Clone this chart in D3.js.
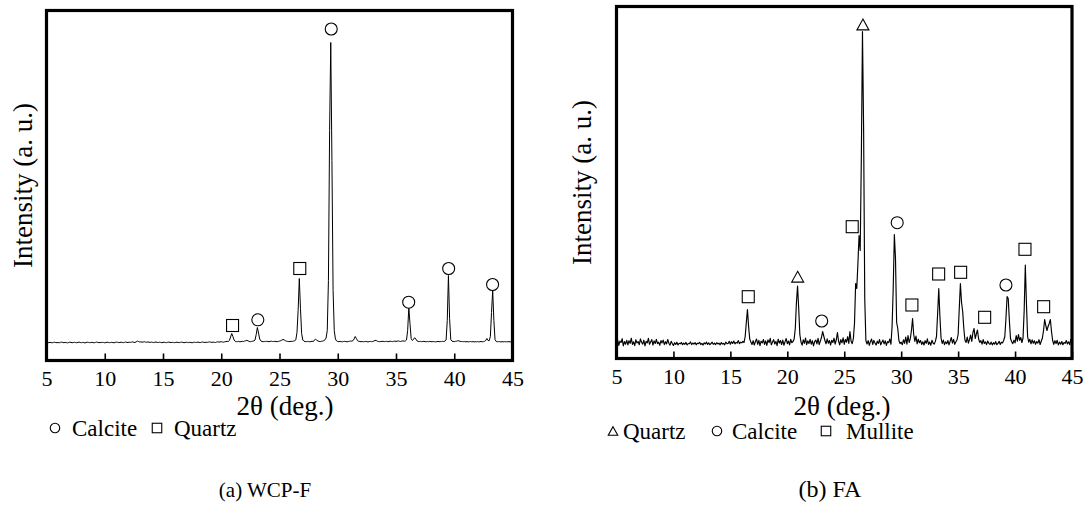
<!DOCTYPE html>
<html>
<head>
<meta charset="utf-8">
<script src="https://cdn.jsdelivr.net/npm/d3@7"></script>
<style>
body { margin: 0; background: #fff; }
svg text { font-family: "Liberation Serif", "Times New Roman", serif; fill: #000; }
</style>
</head>
<body>
<svg id="chart" width="1087" height="524"></svg>
<script>
// 2theta grid: 5 to 45 deg, one value every 0.1 deg
var thetaStart = 5, thetaStep = 0.1;
var xTickValues = [5, 10, 15, 20, 25, 30, 35, 40, 45];

// (a) WCP-F intensity (a. u.), one row per degree
var wcpCounts = [
    17.6,18.0,17.8,18.2,17.9,17.7,18.1,18.3,17.9,17.8,
    18.0,17.7,18.2,18.4,18.0,17.8,18.1,17.9,17.6,18.0,
    18.3,18.1,17.8,17.9,18.2,18.0,17.7,18.1,18.4,18.0,
    17.8,18.1,17.9,17.6,18.0,18.3,18.1,17.8,18.0,18.2,
    17.9,17.7,18.1,18.4,18.1,17.8,18.0,17.9,18.2,18.0,
    17.7,18.0,18.3,18.1,17.8,18.0,18.2,17.9,17.7,18.1,
    18.4,18.2,17.9,18.0,18.3,18.1,17.8,18.2,18.5,18.1,
    18.0,18.3,18.1,18.4,18.6,18.2,18.0,18.7,19.4,19.0,
    18.5,18.7,18.3,18.5,18.8,18.4,18.2,18.6,18.3,18.1,
    18.4,18.2,17.9,18.3,18.5,18.1,18.0,18.3,18.1,17.8,
    18.1,18.3,18.0,17.8,18.2,18.4,18.1,17.9,18.2,18.0,
    17.8,18.1,18.3,18.0,17.9,18.2,18.4,18.1,17.8,18.0,
    18.3,18.1,17.9,18.2,18.0,17.7,18.1,18.3,18.0,18.2,
    18.4,18.1,17.9,18.3,18.5,18.2,18.0,18.3,18.1,18.4,
    18.6,18.3,18.1,18.4,18.2,18.0,18.5,18.7,18.4,18.6,
    18.8,18.5,18.3,18.7,18.9,19.2,19.0,20.0,23.5,27.0,
    24.0,20.5,19.2,18.8,18.9,19.1,18.7,18.9,19.2,19.0,
    19.4,19.8,20.2,19.6,19.0,18.8,19.1,19.3,19.6,20.5,
    26.0,33.0,27.5,21.5,19.6,19.0,18.8,19.1,18.9,19.2,
    19.0,18.8,19.1,19.3,19.0,18.9,19.2,19.0,18.8,19.1,
    19.4,19.8,20.4,21.0,20.6,19.8,19.3,19.1,18.9,19.0,
    19.2,19.1,19.4,19.8,20.6,28.0,50.0,82.0,52.0,27.0,
    20.5,19.3,19.0,18.8,19.1,18.9,18.7,19.0,19.2,18.9,
    20.6,21.2,20.4,19.5,19.1,18.9,19.2,19.4,19.8,20.6,
    22.5,30.0,80.0,230.0,318.0,200.0,70.0,30.0,21.5,19.6,
    19.0,18.8,19.1,18.9,18.7,19.0,19.2,18.9,18.7,19.0,
    19.2,19.5,19.3,19.8,21.5,24.0,22.0,19.8,19.2,19.0,
    18.8,19.0,18.7,18.9,19.1,18.8,18.6,18.9,19.1,18.8,
    19.0,19.4,20.2,20.0,19.3,19.0,18.8,19.0,19.2,19.1,
    18.9,19.0,19.2,18.8,19.0,19.3,19.1,18.9,19.2,19.4,
    19.1,19.3,19.6,19.2,19.0,19.4,19.7,19.3,19.5,20.5,
    30.0,53.0,37.0,22.0,20.0,21.0,22.8,21.5,19.6,19.2,
    18.9,19.1,18.8,19.0,19.2,18.9,18.7,19.0,18.8,19.1,
    18.9,18.7,19.0,18.8,18.6,18.9,19.1,18.8,19.0,18.9,
    19.2,19.0,19.4,20.5,40.0,85.0,42.0,21.0,19.4,19.0,
    18.9,19.2,19.3,19.8,19.6,19.2,18.9,19.0,18.8,18.9,
    18.7,18.9,18.6,18.8,19.0,18.7,18.9,18.6,18.8,18.7,
    18.9,18.6,18.8,19.0,18.7,18.9,19.2,20.0,22.0,20.0,
    19.8,24.0,48.0,70.0,40.0,21.0,19.0,18.7,18.9,18.8,
    18.6,18.8,18.7,18.9,18.6,18.8,18.7,18.9,18.6,18.8,
    18.7
];

// (b) FA intensity (a. u.)
var faCounts = [
    15.2,18.6,13.1,17.4,16.0,19.8,12.7,16.9,14.3,18.1,
    13.6,17.8,15.1,20.3,14.0,16.7,12.9,18.8,15.5,17.0,
    13.8,19.6,16.2,14.4,18.3,12.6,17.1,15.7,20.1,14.2,
    16.5,18.9,13.3,17.6,15.0,19.2,14.8,16.4,13.2,17.9,
    15.6,18.4,13.9,16.8,14.6,19.0,15.3,13.4,17.2,14.9,
    13.0,15.8,14.1,16.3,13.5,15.2,14.7,16.0,13.8,15.4,
    14.2,16.1,13.6,15.0,14.8,16.6,13.9,15.5,14.4,15.9,
    13.7,15.3,14.9,16.2,14.0,15.1,13.4,15.7,14.5,16.4,
    14.1,15.6,13.8,15.0,16.3,14.2,15.4,13.9,15.8,14.6,
    15.3,13.7,16.0,14.4,15.2,13.6,16.5,14.8,15.1,17.2,
    14.3,16.8,15.0,17.5,14.6,16.1,15.4,17.9,14.8,16.3,
    15.7,17.2,16.0,22.0,36.0,49.0,32.0,19.5,16.5,14.0,
    17.8,13.5,16.9,19.4,14.2,18.1,12.8,17.3,15.6,19.0,
    14.1,17.7,13.2,18.6,15.9,20.2,13.7,16.4,18.8,14.5,
    17.1,12.9,19.3,15.4,17.9,14.0,18.4,13.3,16.6,20.0,
    14.8,17.5,13.6,19.1,15.8,17.0,19.5,30.0,56.0,72.5,
    50.0,24.0,16.5,13.4,18.7,15.2,20.4,13.9,17.6,15.0,
    19.2,14.3,17.8,12.7,16.9,18.5,14.6,20.1,13.8,17.4,
    21.0,27.0,22.5,18.0,14.7,19.6,15.3,17.9,13.5,18.2,
    16.0,20.3,14.4,18.5,26.0,17.5,13.6,18.9,15.7,20.6,
    14.2,19.0,16.3,21.8,15.0,27.0,17.2,14.8,20.0,35.0,
    75.0,70.0,95.0,123.0,108.0,200.0,327.0,230.0,60.0,18.0,
    14.5,17.9,13.2,16.8,19.4,14.0,18.1,15.6,13.4,17.3,
    15.1,19.0,13.7,16.2,18.4,14.6,17.7,13.1,16.9,15.8,
    19.5,14.2,32.0,70.0,124.0,100.0,36.0,30.0,18.0,14.9,
    16.3,13.8,18.7,15.2,21.5,14.4,23.0,16.0,19.8,28.0,
    40.0,24.0,17.0,22.5,14.6,19.3,15.8,18.0,14.1,16.7,
    13.5,17.8,15.2,19.6,14.0,16.4,13.3,18.2,15.5,14.4,
    17.1,22.0,45.0,70.0,42.0,20.5,15.0,18.4,13.9,16.6,
    14.8,18.0,13.6,17.2,21.0,15.4,19.1,14.2,16.8,18.5,
    24.0,50.0,75.0,56.0,47.0,30.0,18.2,16.0,21.4,15.3,
    19.0,23.5,17.0,26.0,30.0,20.0,24.5,28.5,19.5,16.2,
    17.8,14.4,18.9,15.0,16.6,13.9,17.5,15.2,14.1,16.4,
    13.6,15.8,14.3,16.9,13.8,15.1,17.2,14.0,16.3,15.5,
    18.0,22.0,40.0,62.0,60.0,38.0,20.0,16.8,14.9,18.3,
    15.6,23.0,17.4,24.0,18.2,21.0,16.0,20.5,48.0,93.5,
    55.0,22.0,16.4,19.2,14.7,18.6,15.3,17.7,14.2,16.9,
    15.4,18.8,14.0,17.2,20.5,28.0,39.0,33.0,28.0,32.0,
    35.0,39.0,27.0,18.0,14.1,17.8,15.0,18.2,13.6,16.4,
    14.3,17.0,13.8,16.1,15.2,18.0,14.5,16.7,13.9,19.5,
    15.0
];

// phase markers: 2theta position, level, shape
var wcpMarkTheta = [20.97, 23.14, 26.74, 29.44, 36.09, 39.52, 43.29];
var wcpMarkLevel = [35, 40.7, 92, 331.5, 58.3, 92, 76];
var wcpMarkShape = ["square", "circle", "square", "circle", "circle", "circle", "circle"];

var faMarkTheta = [16.57, 20.91, 23.02, 25.70, 26.64, 29.65, 30.94, 33.29, 35.22, 37.33, 39.20, 40.87, 42.51];
var faMarkLevel = [61.8, 81.8, 37.5, 131.8, 334, 135.8, 53.5, 84.5, 86.2, 41.2, 73.5, 109.2, 51.8];
var faMarkShape = ["square", "triangle", "circle", "square", "triangle", "circle", "square", "square", "square", "square", "circle", "square", "square"];

var wcpLegendNames = ["Calcite", "Quartz"];
var wcpLegendShapes = ["circle", "square"];
var faLegendNames = ["Quartz", "Calcite", "Mullite"];
var faLegendShapes = ["triangle", "circle", "square"];

var xTitle = "2\u03b8 (deg.)";
var yTitle = "Intensity (a. u.)";
var captions = ["(a) WCP-F", "(b) FA"];

var serif = '"Liberation Serif", "Times New Roman", Times, serif';
var svg = d3.select("#chart");

// draws a marker shape centred on (cx, cy)
function drawShape(g, shape, cx, cy, size) {
    if (shape == "circle") {
        g.append("circle")
            .attr("cx", cx).attr("cy", cy).attr("r", size / 2)
            .attr("fill", "#fff").attr("stroke", "#000").attr("stroke-width", 1.1);
    } else if (shape == "square") {
        g.append("rect")
            .attr("x", cx - size / 2).attr("y", cy - size / 2)
            .attr("width", size).attr("height", size)
            .attr("fill", "#fff").attr("stroke", "#000").attr("stroke-width", 1.1);
    } else {
        var h = size * 0.9;
        g.append("path")
            .attr("d", "M" + cx + "," + (cy - h / 2) + "L" + (cx + size / 2) + "," + (cy + h / 2) +
                "L" + (cx - size / 2) + "," + (cy + h / 2) + "Z")
            .attr("fill", "#fff").attr("stroke", "#000").attr("stroke-width", 1.1);
    }
}

function xrdPanel(cfg) {
    var g = svg.append("g");

    var xScale = d3.scaleLinear().domain([5, 45]).range([cfg.left, cfg.right]);
    var yScale = d3.scaleLinear().domain([0, cfg.bottom - cfg.top]).range([cfg.bottom, cfg.top]);

    var pts = cfg.counts.map(function (v, i) {
        return {theta: thetaStart + i * thetaStep, value: v};
    });

    // bottom axis, ticks pointing into the plot
    var xAxis = d3.axisBottom(xScale)
        .tickValues(xTickValues)
        .tickSizeInner(-7)
        .tickSizeOuter(0)
        .tickPadding(10)
        .tickFormat(d3.format("d"));

    var ax = g.append("g")
        .attr("transform", "translate(0," + cfg.bottom + ")")
        .call(xAxis);
    ax.attr("font-family", null);
    ax.select(".domain").remove();
    ax.selectAll(".tick line").attr("stroke", "#000").attr("stroke-width", 1.6);
    ax.selectAll("text")
        .style("font-family", serif)
        .style("font-size", "22px")
        .attr("fill", "#000");

    // the pattern
    var line = d3.line()
        .x(function (d) { return xScale(d.theta); })
        .y(function (d) { return yScale(d.value); });

    g.append("path")
        .datum(pts)
        .attr("d", line)
        .attr("fill", "none")
        .attr("stroke", "#000")
        .attr("stroke-width", cfg.lineWidth)
        .attr("stroke-linejoin", "round");

    // frame
    g.append("rect")
        .attr("x", cfg.left).attr("y", cfg.top)
        .attr("width", cfg.right - cfg.left).attr("height", cfg.bottom - cfg.top)
        .attr("fill", "none").attr("stroke", "#000").attr("stroke-width", 3.2);

    // phase markers
    for (var i = 0; i < cfg.markTheta.length; i++) {
        drawShape(g, cfg.markShape[i], xScale(cfg.markTheta[i]), yScale(cfg.markLevel[i]), 12);
    }

    // axis titles
    g.append("text")
        .attr("x", cfg.xTitleX).attr("y", 415)
        .attr("text-anchor", "middle")
        .style("font-family", serif)
        .style("font-size", "27px")
        .text(xTitle);

    g.append("text")
        .attr("transform", "translate(" + cfg.yTitleX + "," + ((cfg.top + cfg.bottom) / 2) + ") rotate(-90)")
        .attr("text-anchor", "middle")
        .style("font-family", serif)
        .style("font-size", "27px")
        .text(yTitle);

    // legend
    for (var k = 0; k < cfg.legendNames.length; k++) {
        var lx = cfg.legendX[k];
        drawShape(g, cfg.legendShapes[k], lx, cfg.legendY - 8, 9.5);
        g.append("text")
            .attr("x", lx + cfg.legendGap[k]).attr("y", cfg.legendY)
            .style("font-family", serif)
            .style("font-size", "23px")
            .text(cfg.legendNames[k]);
    }

    // caption
    g.append("text")
        .attr("x", cfg.captionX).attr("y", 497)
        .attr("text-anchor", "middle")
        .style("font-family", serif)
        .style("font-size", cfg.captionSize)
        .text(cfg.caption);
}

xrdPanel({
    counts: wcpCounts, markTheta: wcpMarkTheta, markLevel: wcpMarkLevel, markShape: wcpMarkShape,
    left: 46.5, right: 512.5, top: 10.5, bottom: 360.5, lineWidth: 1,
    xTitleX: 285, yTitleX: 32,
    legendNames: wcpLegendNames, legendShapes: wcpLegendShapes,
    legendX: [55, 157], legendY: 436, legendGap: [17, 17],
    captionX: 265, caption: captions[0], captionSize: "21px"
});

xrdPanel({
    counts: faCounts, markTheta: faMarkTheta, markLevel: faMarkLevel, markShape: faMarkShape,
    left: 616.5, right: 1072, top: 6.5, bottom: 358.5, lineWidth: 1.15,
    xTitleX: 842, yTitleX: 591,
    legendNames: faLegendNames, legendShapes: faLegendShapes,
    legendX: [613, 717, 826], legendY: 439, legendGap: [10, 15, 20],
    captionX: 830, caption: captions[1], captionSize: "24px"
});
</script>
</body>
</html>
